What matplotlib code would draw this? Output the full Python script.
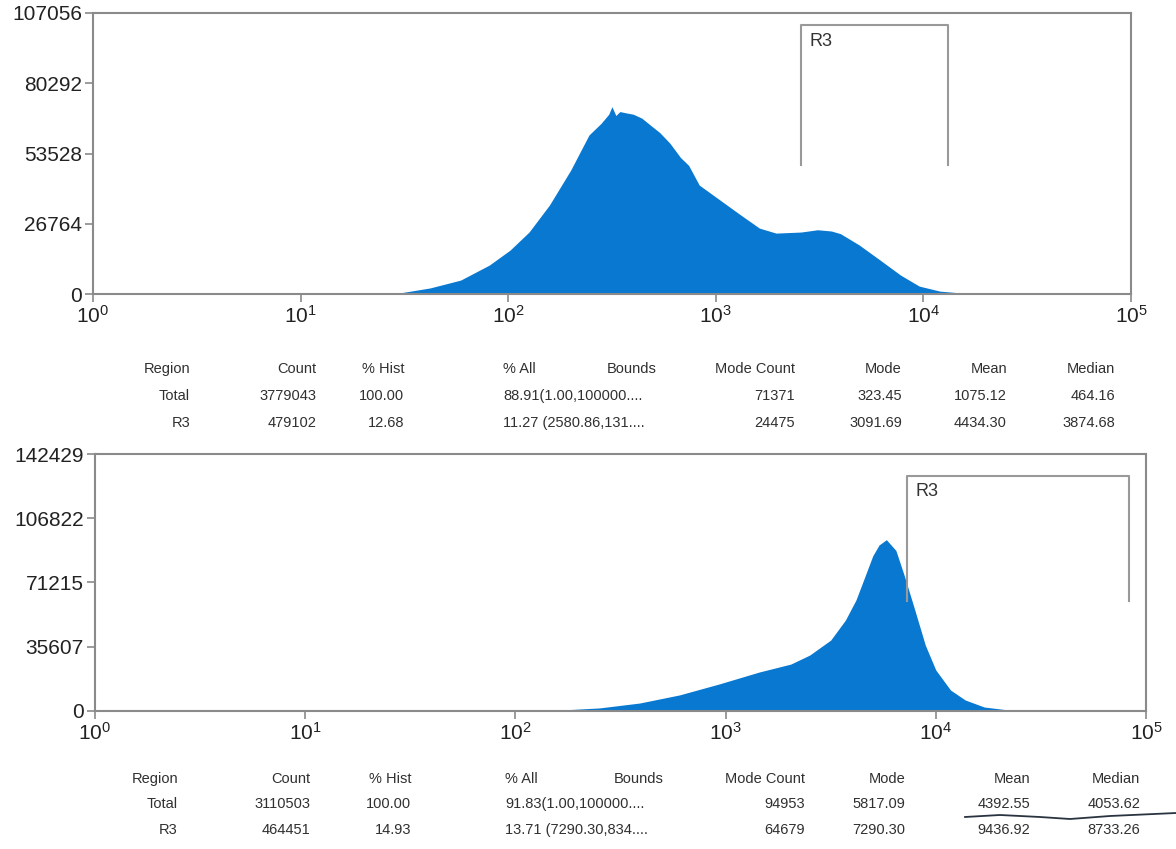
import matplotlib
matplotlib.use("Agg")
import matplotlib.pyplot as plt
from matplotlib.lines import Line2D

plt.rcParams['font.family'] = ['Liberation Sans', 'DejaVu Sans']
plt.rcParams['mathtext.fontset'] = 'custom'
plt.rcParams['mathtext.rm'] = 'Liberation Sans'
plt.rcParams['mathtext.it'] = 'Liberation Sans'

# histograma 1 (intensidad, conteo)
x1 = [1, 10, 20, 30, 42, 59, 81, 102, 126, 158, 200, 245, 280, 305, 316, 330, 345,
      370, 400, 440, 490, 537, 600, 676, 740, 832, 1047, 1318, 1622, 1950, 2570,
      3092, 3600, 3981, 4900, 6166, 7762, 9550, 12000, 15100, 23400, 40000, 100000]
y1 = [0, 0, 100, 400, 2300, 5300, 11000, 16700, 23600, 33900, 47200, 60600, 65000,
      68500, 71371, 68000, 69500, 69000, 68500, 67000, 64000, 61500, 57500, 52000,
      49000, 41500, 35800, 30100, 25100, 23200, 23600, 24475, 24000, 23000, 18700,
      13000, 7200, 3000, 1100, 400, 100, 0, 0]

# histograma 2
x2 = [1, 100, 162, 251, 389, 603, 933, 1445, 2042, 2512, 3162, 3715, 4169, 4571,
      5012, 5370, 5817, 6457, 7079, 7943, 8913, 10000, 11750, 13800, 17000, 22400,
      34700, 100000]
y2 = [0, 0, 500, 1700, 4400, 8900, 15000, 21600, 26000, 31000, 39300, 50400, 61500,
      73700, 86000, 92000, 94953, 89000, 75000, 56000, 36500, 22700, 11600, 6100,
      2200, 500, 0, 0]

yticks1 = [0, 26764, 53528, 80292, 107056]
yticks2 = [0, 35607, 71215, 106822, 142429]

# region R3: (limite izq, limite der, altura arriba, altura abajo)
gate1 = (2580.86, 13100, 102500, 49000)
gate2 = (7290.30, 83400, 130200, 61000)

header = ['Region', 'Count', '% Hist', '% All', 'Bounds', 'Mode Count', 'Mode', 'Mean', 'Median']
tabla1 = [['Total', '3779043', '100.00', '88.91(1.00,100000....', '71371', '323.45', '1075.12', '464.16'],
          ['R3', '479102', '12.68', '11.27 (2580.86,131....', '24475', '3091.69', '4434.30', '3874.68']]
tabla2 = [['Total', '3110503', '100.00', '91.83(1.00,100000....', '94953', '5817.09', '4392.55', '4053.62'],
          ['R3', '464451', '14.93', '13.71 (7290.30,834....', '64679', '7290.30', '9436.92', '8733.26']]

W, H = 1176, 849
azul = '#0878d1'
gris = '#8a8a8a'
texto = '#303030'

fig = plt.figure(figsize=(W / 100, H / 100), dpi=100)


def px(x, y):
    return x / W, 1 - y / H


def histograma(rect, xs, ys, yticks, gate):
    l, t, r, b = rect
    ax = fig.add_axes([l / W, 1 - b / H, (r - l) / W, (b - t) / H])
    ax.fill_between(xs, ys, 0, color=azul, lw=0)
    ax.set_xscale('log')
    ax.set_xlim(1, 1e5)
    ax.set_ylim(0, yticks[-1])
    ax.set_yticks(yticks)
    ax.set_yticklabels([str(v) for v in yticks])
    ax.set_xticks([10 ** i for i in range(6)])
    ax.set_xticklabels([r'$\mathregular{10^{%d}}$' % i for i in range(6)])
    ax.minorticks_off()
    ax.tick_params(labelsize=15, length=6, width=1.2, color=gris, labelcolor='#222222', pad=2)
    for s in ax.spines.values():
        s.set_color(gris)
        s.set_linewidth(1.5)
    g0, g1, gt, gb = gate
    ax.plot([g0, g0, g1, g1], [gb, gt, gt, gb], color='#999999', lw=1.5)
    ax.text(g0 * 1.1, gt * 0.97, 'R3', fontsize=13, color='#333333', va='top')
    return ax


histograma((93, 13, 1131, 294), x1, y1, yticks1, gate1)
histograma((95, 454, 1146, 711), x2, y2, yticks2, gate2)


def tabla(filas, ys, cols_der, col_all, col_bounds):
    fs = 10.5
    # encabezado
    for j, h in enumerate(header):
        if h == '% All':
            fig.text(*px(col_all, ys[0]), h, ha='left', va='center', fontsize=fs, color=texto)
        elif h == 'Bounds':
            fig.text(*px(col_bounds, ys[0]), h, ha='right', va='center', fontsize=fs, color=texto)
        else:
            k = j if j < 3 else j - 2
            fig.text(*px(cols_der[k], ys[0]), h, ha='right', va='center', fontsize=fs, color=texto)
    for fila, yy in zip(filas, ys[1:]):
        for k, v in enumerate(fila):
            if k == 3:
                fig.text(*px(col_all, yy), v, ha='left', va='center', fontsize=fs, color=texto)
            else:
                kk = k if k < 3 else k - 1
                fig.text(*px(cols_der[kk], yy), v, ha='right', va='center', fontsize=fs, color=texto)


tabla(tabla1, [369, 396, 423], [190, 316, 404, 795, 902, 1007, 1115], 503, 657)
tabla(tabla2, [779, 804, 830], [178, 310, 411, 805, 905, 1030, 1140], 505, 664)

# trazo a mano bajo Mean/Median
fig.add_artist(Line2D([965 / W, 1000 / W, 1040 / W, 1070 / W, 1110 / W, 1176 / W],
                      [1 - 817 / H, 1 - 815 / H, 1 - 817 / H, 1 - 819 / H, 1 - 816 / H, 1 - 813 / H],
                      color='#2a3440', lw=1.3))

fig.savefig('out.png', dpi=100)
